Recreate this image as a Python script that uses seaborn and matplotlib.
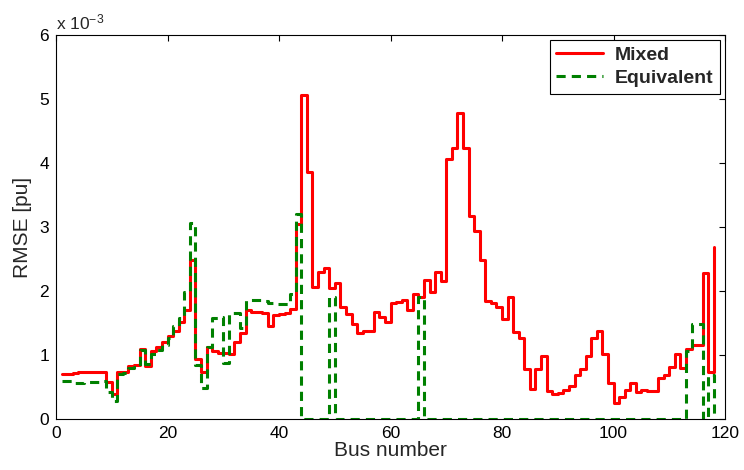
import numpy as np
import pandas as pd
import matplotlib
matplotlib.use("Agg")
import matplotlib.pyplot as plt
import seaborn as sns

# ---- data (RMSE in units of 1e-3 pu) ----
bus = list(range(1, 119))

mixed = [
    0.71, 0.71, 0.72, 0.74, 0.74, 0.73, 0.73, 0.74, 0.58, 0.39,
    0.74, 0.74, 0.83, 0.84, 1.10, 0.83, 1.07, 1.13, 1.20, 1.30,
    1.38, 1.52, 1.71, 2.48, 0.94, 0.74, 1.13, 1.06, 1.03, 1.03,
    1.02, 1.21, 1.34, 1.70, 1.67, 1.67, 1.65, 1.46, 1.63, 1.64,
    1.65, 1.72, 3.04, 5.06, 3.86, 2.06, 2.30, 2.36, 2.05, 2.13,
    1.75, 1.64, 1.48, 1.35, 1.37, 1.38, 1.67, 1.59, 1.52, 1.81,
    1.83, 1.86, 1.70, 1.95, 1.91, 2.17, 1.99, 2.29, 2.15, 4.07,
    4.23, 4.78, 4.23, 3.17, 2.94, 2.48, 1.85, 1.81, 1.75, 1.56,
    1.90, 1.36, 1.26, 0.78, 0.47, 0.78, 0.98, 0.44, 0.39, 0.41,
    0.45, 0.52, 0.69, 0.78, 0.98, 1.26, 1.38, 1.01, 0.56, 0.25,
    0.35, 0.45, 0.56, 0.42, 0.45, 0.43, 0.43, 0.64, 0.69, 0.82,
    1.02, 0.79, 1.09, 1.16, 1.16, 2.28, 0.74, 2.68,
]

equivalent = [
    0.60, 0.60, 0.57, 0.56, 0.58, 0.58, 0.58, 0.60, 0.42, 0.28,
    0.70, 0.72, 0.80, 0.82, 1.08, 0.86, 1.02, 1.08, 1.15, 1.27,
    1.45, 1.58, 1.98, 3.06, 0.85, 0.48, 1.13, 1.58, 1.60, 0.88,
    1.65, 1.65, 1.42, 1.86, 1.86, 1.86, 1.85, 1.81, 1.80, 1.79,
    1.80, 1.96, 3.21, 0.00, 0.00, 0.00, 0.00, 0.00, 1.91, 0.00,
    0.00, 0.00, 0.00, 0.00, 0.00, 0.00, 0.00, 0.00, 0.00, 0.00,
    0.00, 0.00, 0.00, 0.00, 1.91, 0.00, 0.00, 0.00, 0.00, 0.00,
    0.00, 0.00, 0.00, 0.00, 0.00, 0.00, 0.00, 0.00, 0.00, 0.00,
    0.00, 0.00, 0.00, 0.00, 0.00, 0.00, 0.00, 0.00, 0.00, 0.00,
    0.00, 0.00, 0.00, 0.00, 0.00, 0.00, 0.00, 0.00, 0.00, 0.00,
    0.00, 0.00, 0.00, 0.00, 0.00, 0.00, 0.00, 0.00, 0.00, 0.00,
    0.00, 0.00, 1.06, 1.48, 1.48, 0.00, 0.68, 0.00,
]

series_names = ["Mixed", "Equivalent"]
x_ticks = [0, 20, 40, 60, 80, 100, 120]
y_ticks = [0, 1, 2, 3, 4, 5, 6]

df = pd.DataFrame({
    "Bus number": bus * 2,
    "RMSE": np.array(mixed + equivalent) * 1e-3,
    "series": [series_names[0]] * len(bus) + [series_names[1]] * len(bus),
})

sns.set_style("white")
plt.rcParams["font.family"] = ["Liberation Sans", "DejaVu Sans"]
plt.rcParams["mathtext.fontset"] = "custom"
plt.rcParams["mathtext.rm"] = "Liberation Sans"
plt.rcParams["mathtext.it"] = "Liberation Sans"

fig = plt.figure(figsize=(7.44, 4.70), dpi=100)
ax = fig.add_axes([0.0753, 0.1085, 0.8992, 0.817])

sns.lineplot(
    data=df, x="Bus number", y="RMSE", hue="series", style="series",
    hue_order=series_names, style_order=series_names,
    palette={"Mixed": "#ff0000", "Equivalent": "#008000"},
    dashes={"Mixed": "", "Equivalent": (3, 2)},
    estimator=None, drawstyle="steps-post", linewidth=2.2,
    legend=False, ax=ax,
)

ax.set_xlim(0, 120)
ax.set_ylim(0, 6e-3)
ax.set_xticks(x_ticks)
ax.set_yticks([v * 1e-3 for v in y_ticks])
ax.set_xticklabels([str(v) for v in x_ticks])
ax.set_yticklabels([str(v) for v in y_ticks])
ax.tick_params(direction="in", length=4, width=0.8, top=True, right=True,
               labelsize=12.5, colors="black", pad=5)
for s in ax.spines.values():
    s.set_visible(True)
    s.set_color("black")
    s.set_linewidth(0.8)

ax.set_xlabel("Bus number", fontsize=15, labelpad=0)
ax.set_ylabel("RMSE [pu]", fontsize=15, labelpad=5)
ax.text(0.0, 1.008, "x 10$^{-3}$", transform=ax.transAxes,
        ha="left", va="bottom", fontsize=12.5)

lines = ax.get_lines()
leg = ax.legend(lines[:2], series_names, loc="upper right",
                prop={"weight": "bold", "size": 14},
                frameon=True, fancybox=False, edgecolor="black",
                framealpha=1, handlelength=2.4, handletextpad=0.6,
                borderaxespad=0.25, labelspacing=0.25, borderpad=0.35)
leg.get_frame().set_linewidth(0.8)

fig.savefig("out.png", dpi=100)
